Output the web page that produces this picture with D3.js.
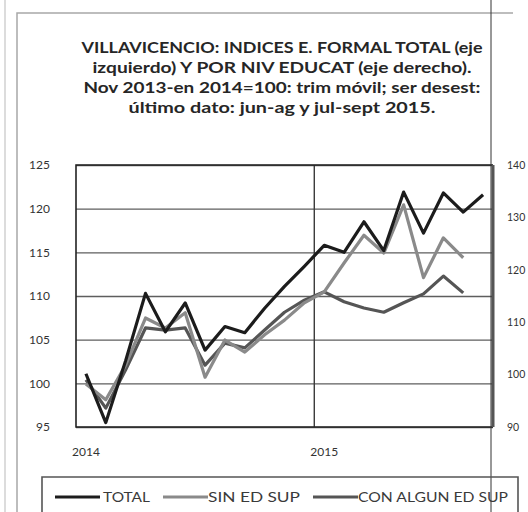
<!DOCTYPE html>
<html><head><meta charset="utf-8">
<script src="https://cdn.jsdelivr.net/npm/d3@7"></script>
<style>html,body{margin:0;padding:0;background:#fff;}svg{display:block;}</style>
</head><body>
<svg id="c" width="528" height="512"></svg>
<script>
const months = ["ene-14","feb-14","mar-14","abr-14","may-14","jun-14","jul-14","ago-14","sep-14","oct-14","nov-14","dic-14",
  "ene-15","feb-15","mar-15","abr-15","may-15","jun-15","jul-15","ago-15","sep-15"];
const xTickLabels = {"ene-14":"2014","ene-15":"2015"};
const total = [101.1,95.5,102.6,110.3,105.9,109.2,103.8,106.5,105.8,108.6,111.1,113.4,115.8,115.0,118.5,115.2,121.9,117.2,121.8,119.6,121.6];
const sinEdSup = [98.2,95.2,101.8,110.8,108.9,111.8,99.5,106.6,104.3,107.6,110.4,113.7,115.8,121.3,126.6,123.2,132.4,118.5,126.1,122.3];
const conAlgunEdSup = [99.0,93.6,100.9,108.9,108.5,108.9,101.8,106.0,105.1,108.5,111.9,114.2,115.8,113.9,112.7,111.9,113.7,115.4,118.8,115.6];
const leftTicks = [95,100,105,110,115,120,125];
const rightTicks = [90,100,110,120,130,140];
const seriesNames = ["TOTAL","SIN ED SUP","CON ALGUN ED SUP"];
const titleLines = ["VILLAVICENCIO: INDICES E. FORMAL TOTAL (eje",
  "izquierdo) Y POR NIV EDUCAT (eje derecho).",
  "Nov 2013-en 2014=100: trim móvil; ser desest:",
  "último dato: jun-ag  y jul-sept 2015."];

const svg = d3.select("#c");
const L = 76, R = 493, T = 165, B = 427;
const font = "Lato, 'Open Sans', sans-serif";

// page decoration
svg.append("line").attr("x1",5).attr("x2",5).attr("y1",0).attr("y2",512).attr("stroke","#d0d0d0").attr("stroke-width",1.5);
svg.append("path").attr("d","M17,512 V13 H513").attr("fill","none").attr("stroke","#a8a8a8").attr("stroke-width",1.5);

// title
const tw = [401, 379, 397, 307];
svg.append("g").selectAll("text").data(titleLines).join("text")
  .attr("x",282).attr("y",(d,i)=>53+i*20).attr("text-anchor","middle")
  .attr("font-family",font).attr("font-weight","bold").attr("font-size",14.5).attr("fill","#262626")
  .attr("textLength",(d,i)=>tw[i]).attr("lengthAdjust","spacingAndGlyphs")
  .text(d=>d);

const x = d3.scaleBand().domain(months).range([L,R]).padding(0);
const cx = d => x(d) + x.bandwidth()/2;
const yL = d3.scaleLinear().domain([95,125]).range([B,T]);
const yR = d3.scaleLinear().domain([90,140]).range([B,T]);

// horizontal gridlines
svg.append("g").attr("transform",`translate(${L},0)`)
  .call(d3.axisLeft(yL).tickValues(leftTicks).tickSize(-(R-L)).tickFormat(""))
  .call(g=>g.select(".domain").remove())
  .call(g=>g.selectAll(".tick line").attr("stroke","#5e5e5e").attr("stroke-width",1.4));

// vertical gridline at year boundary
const yearStarts = months.filter(m=>xTickLabels[m]).slice(1);
svg.append("g").selectAll("line").data(yearStarts).join("line")
  .attr("x1",d=>x(d)).attr("x2",d=>x(d)).attr("y1",T).attr("y2",B)
  .attr("stroke","#3a3a3a").attr("stroke-width",1.4);

// left axis labels
svg.append("g").attr("transform",`translate(${L},0)`)
  .call(d3.axisLeft(yL).tickValues(leftTicks).tickSize(0).tickPadding(26))
  .call(g=>g.select(".domain").remove())
  .call(g=>g.selectAll("text").attr("font-family",font).attr("font-size",12).attr("fill","#333"));

// right axis labels
svg.append("g").attr("transform",`translate(${R},0)`)
  .call(d3.axisRight(yR).tickValues(rightTicks).tickSize(0).tickPadding(14))
  .call(g=>g.select(".domain").remove())
  .call(g=>g.selectAll("text").attr("font-family",font).attr("font-size",10.5).attr("fill","#333"));

// x axis labels
svg.append("g").attr("transform",`translate(0,${B})`)
  .call(d3.axisBottom(x).tickValues(months.filter(m=>xTickLabels[m])).tickSize(0).tickPadding(20).tickFormat(m=>xTickLabels[m]))
  .call(g=>g.select(".domain").remove())
  .call(g=>g.selectAll("text").attr("font-family",font).attr("font-size",12).attr("fill","#333"));

// plot border
svg.append("path").attr("d",`M${R},${T} H${L} V${B} H${R}`).attr("fill","none").attr("stroke","#222").attr("stroke-width",1.6);
svg.append("line").attr("x1",R).attr("x2",R).attr("y1",T).attr("y2",B).attr("stroke","#555").attr("stroke-width",3);

// series
const colors = ["#1c1c1c","#8a8a8a","#555555"];
const lineL = d3.line().x((d,i)=>cx(months[i])).y(d=>yL(d));
const lineR = d3.line().x((d,i)=>cx(months[i])).y(d=>yR(d));
svg.append("path").attr("d",lineR(conAlgunEdSup)).attr("fill","none").attr("stroke",colors[2]).attr("stroke-width",3.2).attr("stroke-linejoin","round");
svg.append("path").attr("d",lineR(sinEdSup)).attr("fill","none").attr("stroke",colors[1]).attr("stroke-width",3.2).attr("stroke-linejoin","round");
svg.append("path").attr("d",lineL(total)).attr("fill","none").attr("stroke",colors[0]).attr("stroke-width",3.2).attr("stroke-linejoin","round");

// thin page line
svg.append("line").attr("x1",491).attr("x2",491).attr("y1",0).attr("y2",512).attr("stroke","#333").attr("stroke-width",1);

// legend
svg.append("path").attr("d","M42,513 V477 H518 V513").attr("fill","none").attr("stroke","#555").attr("stroke-width",1.6);
const lx = [55,163,313], tx = [103,208,358], tl = [47,92,150];
const lg = svg.append("g").selectAll("g").data(seriesNames).join("g");
lg.append("line").attr("x1",(d,i)=>lx[i]).attr("x2",(d,i)=>lx[i]+45).attr("y1",497).attr("y2",497)
  .attr("stroke",(d,i)=>colors[i]).attr("stroke-width",3.2);
lg.append("text").attr("x",(d,i)=>tx[i]).attr("y",502).attr("font-family",font).attr("font-size",13).attr("fill","#3a3a3a")
  .attr("textLength",(d,i)=>tl[i]).attr("lengthAdjust","spacingAndGlyphs").text(d=>d);
</script>
</body></html>
